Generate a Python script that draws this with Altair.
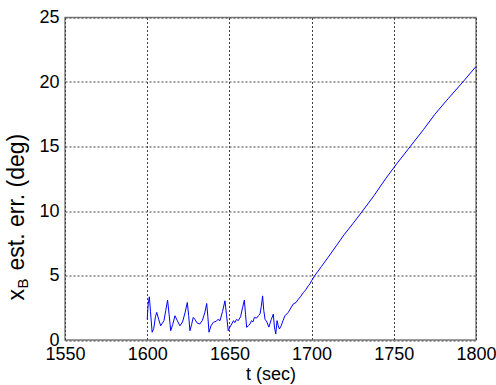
import altair as alt
import pandas as pd

# Estimation error of x_B over time
t_sec = [
    1600, 1600.6, 1601.3, 1602, 1603, 1604, 1605, 1605.8, 1607, 1608.2,
    1609.2, 1610.2, 1611.3, 1612.4, 1613.3, 1614.3, 1615.5, 1616.9, 1618.3, 1619.9,
    1621.5, 1623, 1624.4, 1625.2, 1626, 1627, 1628, 1629, 1630.5, 1632,
    1633.5, 1635, 1636.2, 1636.9, 1637.6, 1638.8, 1640.2, 1642, 1643, 1644.3,
    1645.8, 1647.3, 1648.2, 1649.3, 1650.3, 1651.4, 1652.5, 1653.3, 1654.3, 1655.4,
    1656.8, 1658, 1659.1, 1659.8, 1660.5, 1661.5, 1662.5, 1663.5, 1664.3, 1665.2,
    1666.5, 1667.6, 1668.6, 1669.4, 1670.2, 1670.9, 1671.7, 1672.8, 1674, 1675.5,
    1676.7, 1677.4, 1678.2, 1679, 1679.7, 1680.4, 1681.5, 1682.6, 1683.8, 1685.8,
    1687, 1688.9, 1690.5, 1692, 1693.5, 1695, 1696.5, 1698, 1699, 1700,
    1702, 1706, 1710, 1715, 1720, 1725, 1731, 1738, 1745, 1752,
    1760, 1768, 1775, 1783, 1792, 1800,
]
err_deg = [
    1.6, 2.8, 3.35, 2.2, 0.6, 0.9, 1.8, 2.14, 1.6, 1.1,
    1.3, 1.5, 2.3, 3.09, 2.0, 0.72, 1.2, 1.88, 1.5, 1.1,
    1.4, 2.1, 2.91, 1.9, 0.72, 1.2, 1.75, 1.6, 1.3, 1.24,
    1.5, 2.1, 2.83, 1.8, 0.6, 1.1, 1.37, 1.45, 1.6, 1.5,
    2.2, 3.04, 2.0, 0.72, 1.0, 1.24, 1.5, 1.35, 1.6, 1.5,
    1.8, 2.5, 3.09, 2.0, 0.98, 1.1, 1.24, 1.5, 1.4, 1.75,
    1.7, 1.88, 2.0, 2.6, 3.42, 2.3, 1.6, 1.4, 1.0, 1.6,
    2.0, 1.0, 0.46, 1.5, 1.1, 0.85, 1.1, 1.5, 1.88, 2.14,
    2.4, 2.8, 2.9, 3.17, 3.4, 3.68, 3.9, 4.2, 4.35, 4.6,
    5.0, 5.7, 6.4, 7.3, 8.2, 9.0, 10.0, 11.2, 12.5, 13.7,
    15.0, 16.3, 17.5, 18.7, 20.0, 21.2,
]
x_ticks = [1550, 1600, 1650, 1700, 1750, 1800]
y_ticks = [0, 5, 10, 15, 20, 25]

# y-axis title pieces: base letter, subscript, remainder
ylabel_base = ["x"]
ylabel_sub = ["B"]
ylabel_rest = ["est. err. (deg)"]

FONT = "Liberation Sans"
FS = 18
YFS = 23

df = pd.DataFrame({"t": t_sec, "err": err_deg})

grid_axis = dict(
    grid=True, gridColor="#404040", gridDash=[2, 2], gridWidth=1,
    ticks=False, domain=False, labelFlush=False,
    labelFont=FONT, labelFontSize=FS, labelColor="#000000",
    titleFont=FONT, titleFontSize=FS, titleFontWeight="normal", titleColor="#000000",
)

line = alt.Chart(df).mark_line(color="#0000ff", strokeWidth=1, clip=True).encode(
    x=alt.X("t:Q",
            scale=alt.Scale(domain=[1550, 1800], nice=False, zero=False),
            axis=alt.Axis(values=x_ticks, title="t (sec)", format="d",
                          labelPadding=5, titlePadding=2, **grid_axis)),
    y=alt.Y("err:Q",
            scale=alt.Scale(domain=[0, 25], nice=False),
            axis=alt.Axis(values=y_ticks, title=None, format="d",
                          labelPadding=6, **grid_axis)),
)

def ylabel_part(text, x, y, size):
    return alt.Chart(pd.DataFrame({"s": text})).mark_text(
        angle=270, align="left", baseline="middle",
        font=FONT, fontSize=size, color="#000000",
    ).encode(text="s:N", x=alt.value(x), y=alt.value(y))

ylab = (
    ylabel_part(ylabel_base, -48, 283, YFS)
    + ylabel_part(ylabel_sub, -42, 271, 15)
    + ylabel_part(ylabel_rest, -48, 253, YFS)
)

chart = (line + ylab).properties(
    width=411, height=322.5,
    padding={"left": 65, "top": 17.5, "right": 20, "bottom": 45},
    autosize="none",
    background="#ffffff",
).configure_view(stroke="#808080", strokeWidth=1.5)

chart.save("out.html", embed_options={"renderer": "svg", "actions": False})
